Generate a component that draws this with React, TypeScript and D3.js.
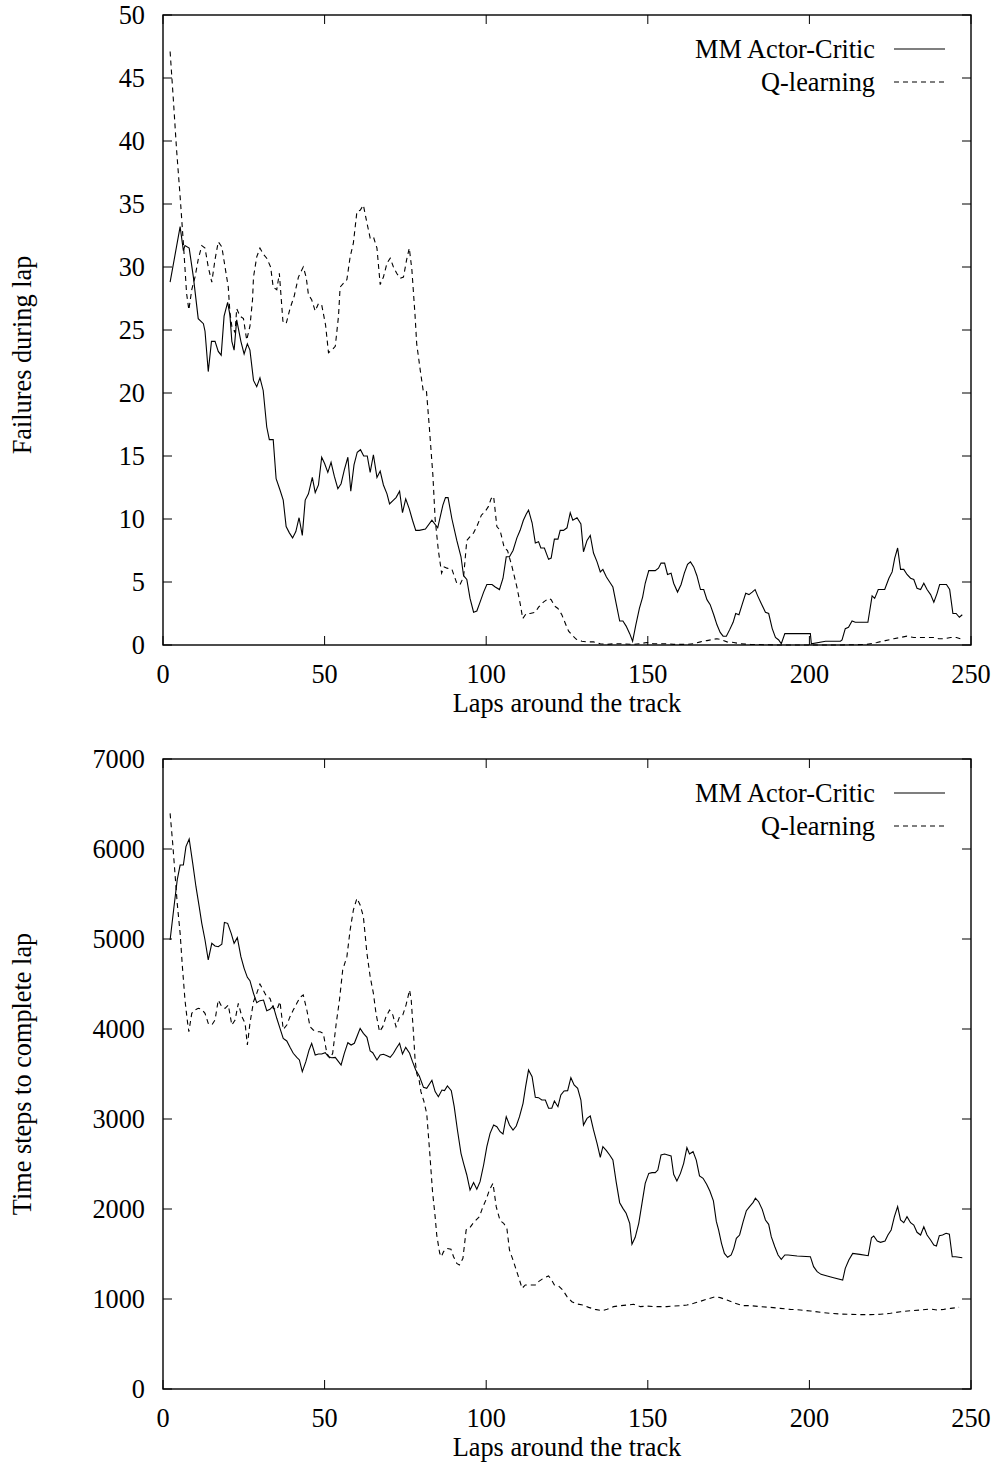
import React from "react";
import * as d3 from "d3";

// Failures per lap, [lap, failures]
const acFailures: [number, number][] = [
  [2.2,28.8],[5.3,33.2],[6.3,31.3],[6.8,31.7],[8.1,31.5],[9.4,29.2],[10.9,25.9],[12.5,25.5],[13,24.9],[14,21.7],[15,24.1],[16.1,24.1],[17.1,23.3],[18,23.0],[18.9,26.1],[20,27.2],[20.7,26.2],[21.3,24.1],[22,23.4],[22.8,25.8],[24.1,24.1],[25.1,23.1],[26.1,23.9],[26.9,23.4],[28,21.0],[29,20.5],[30,21.2],[31,20.2],[32.1,17.3],[32.9,16.3],[34.1,16.3],[35,13.2],[36.2,12.3],[37.2,11.5],[38.1,9.4],[39.1,8.9],[40.1,8.5],[41.1,9.0],[42.1,10.1],[43.1,8.7],[44,11.5],[45,12.0],[46.2,13.3],[47.1,12.1],[48.1,12.7],[49.1,14.9],[50,14.4],[51,13.7],[52,14.5],[53,13.4],[54.1,12.4],[55.1,12.8],[56.1,13.9],[57.2,14.9],[58.1,12.2],[59.1,14.3],[60.1,15.3],[61.1,15.5],[62.1,15.0],[63.2,15.0],[64.1,13.7],[65.1,15.1],[66.2,13.3],[67.2,13.8],[68.2,12.7],[69.3,12.0],[70.1,11.2],[71.3,11.5],[72.1,11.7],[73.2,12.2],[74.1,10.5],[75.1,11.6],[76.2,10.8],[77.2,9.9],[78.2,9.1],[79.3,9.1],[81.2,9.2],[83.2,9.9],[85,9.3],[86.6,11.1],[87.4,11.7],[88.2,11.7],[89.4,10.0],[90.9,8.3],[92.2,7.0],[93,5.5],[94,5.2],[95,3.7],[96.1,2.6],[97.1,2.7],[98.1,3.4],[99.2,4.2],[100.2,4.8],[101.8,4.8],[102.8,4.6],[104.1,4.4],[105.2,5.3],[106.2,7.0],[107.2,7.0],[108.3,7.5],[109.5,8.5],[110.5,9.1],[111.5,9.9],[112.4,10.4],[113.1,10.7],[114.2,9.7],[115.2,8.1],[116.2,8.2],[116.9,7.7],[118,7.7],[119.3,6.8],[120.1,6.9],[121.1,8.4],[122.2,8.4],[122.9,9.1],[123.9,9.1],[125,9.3],[126,10.5],[126.8,9.9],[128.1,10.1],[129.3,9.6],[130.1,7.4],[131.2,8.3],[132.2,8.7],[133.2,7.3],[134.3,6.6],[135.3,5.8],[136.1,6.0],[137.2,5.4],[138.2,5.0],[139.2,4.6],[140.2,3.3],[141.3,1.9],[142.3,1.9],[143.3,1.5],[144.4,0.9],[145.3,0.3],[146.3,1.6],[147.4,2.9],[148.4,3.8],[149.2,4.9],[150.3,5.9],[151.3,5.9],[152.3,5.9],[153.3,6.1],[154.1,6.5],[155.2,6.5],[156.1,5.6],[157.2,5.7],[158,4.9],[159.2,4.2],[160.3,4.8],[161.3,5.7],[162.3,6.4],[163.2,6.6],[164.2,6.2],[165.2,5.5],[166.3,4.4],[167.3,4.4],[168.3,3.6],[169.3,3.2],[170.4,2.4],[171.4,1.6],[172.4,1.0],[173.3,0.7],[174.3,0.7],[175.3,1.2],[176.4,1.8],[177.2,2.5],[178.2,2.4],[179.3,3.3],[180.3,4.1],[181.3,4.0],[182.3,4.2],[183.2,4.4],[184,3.9],[185.1,3.3],[186.4,2.6],[187.4,2.5],[188.5,1.3],[189.5,0.6],[190.5,0.4],[191.3,0.1],[192.4,0.9],[200.3,0.9],[200.6,0.1],[205,0.3],[209.6,0.3],[210.1,0.4],[211.1,1.3],[212.1,1.4],[213.2,1.9],[214.2,1.8],[218.1,1.8],[219.4,3.9],[220.2,3.7],[221.3,4.4],[223.3,4.4],[224.6,5.3],[225.6,5.8],[226.4,6.9],[227.3,7.7],[228.2,6.0],[229.2,6.0],[230.2,5.6],[231.3,5.3],[232.3,5.2],[233.3,4.5],[234.4,4.4],[235.4,4.9],[236.4,4.4],[237.5,4.0],[238.5,3.4],[239.5,4.1],[240.3,4.8],[242.4,4.8],[243.4,4.4],[244.4,2.5],[245.4,2.5],[246.4,2.2],[247.3,2.4]
];

const qFailures: [number, number][] = [
  [2.2,47.1],[3.2,43.3],[4.2,39.3],[5.3,35.6],[6.3,31.9],[7.3,27.9],[8,26.6],[8.9,28.2],[9.9,29.2],[10.9,30.6],[12,31.7],[13,31.5],[14,30.0],[15.1,28.8],[16.1,30.6],[17.1,32.0],[18.2,31.6],[19.2,30.0],[20.2,28.4],[20.7,26.4],[21.3,25.3],[22.3,24.8],[22.8,26.7],[23.8,26.1],[24.9,25.9],[25.9,24.2],[26.9,25.3],[27.7,27.4],[28,29.2],[29,30.8],[30,31.5],[31.1,31.0],[32.1,30.7],[33.3,30.0],[34.1,28.4],[35.2,28.2],[36,29.5],[37.1,25.7],[38.1,25.5],[39.3,26.7],[40.6,27.7],[41.9,29.2],[43.4,30.0],[44.3,29.2],[45,27.8],[46,27.4],[47.1,26.5],[48.1,27.1],[49.1,27.0],[50.3,25.4],[51.2,23.2],[52.2,23.4],[53.3,23.7],[54.3,26.1],[54.8,28.4],[55.8,28.7],[56.9,29.0],[57.9,30.8],[58.9,31.9],[60,34.4],[61,34.5],[62,34.9],[63.1,33.5],[64.1,32.3],[65.1,32.4],[66.2,31.5],[67.2,28.6],[68.2,29.2],[69.3,30.3],[70.3,30.7],[71.3,30.0],[72.3,29.5],[73.4,29.1],[74.4,29.2],[75.4,30.6],[76.2,31.5],[77,29.8],[78,26.1],[78.5,23.9],[79.6,21.8],[80.5,20.2],[81.5,20.2],[82.4,17.3],[83.5,13.5],[84.2,10.0],[85.2,7.5],[86.2,5.7],[87,6.2],[87.9,6.1],[89.4,6.0],[90.9,4.9],[91.9,4.8],[93,5.4],[94,8.3],[95,8.6],[96.1,8.9],[97.1,9.4],[98.5,10.3],[99.7,10.6],[100.7,11.0],[101.5,11.6],[102.3,11.8],[103.3,9.4],[104.3,9.1],[105.6,7.7],[106.6,7.5],[108,6.2],[109.5,4.6],[110.5,3.3],[111.3,2.1],[112.4,2.5],[113.6,2.5],[115.2,2.6],[116.2,3.0],[117.7,3.4],[119.3,3.7],[120.1,3.6],[121.1,3.1],[122.2,2.9],[123.4,2.4],[124.5,1.7],[125.5,1.1],[126.5,0.8],[127.9,0.45],[129.6,0.3],[131.2,0.25],[133.2,0.25],[135.3,0.1],[137.4,0.05],[139.4,0.1],[141.5,0.1],[145.6,0.05],[147.7,0.1],[149.7,0.2],[151.8,0.1],[155.9,0.1],[158,0.05],[162.1,0.05],[164.2,0.1],[166.3,0.25],[168.3,0.35],[170.4,0.45],[171.4,0.5],[173,0.4],[174.5,0.25],[176.6,0.2],[178.6,0.1],[181.7,0.05],[190,0],[200,0],[210,0],[217.8,0.05],[220.9,0.2],[223.5,0.35],[226.1,0.5],[228.2,0.6],[230.2,0.7],[232.3,0.6],[234.4,0.6],[236.4,0.6],[238.5,0.6],[240,0.5],[241.6,0.5],[243.7,0.6],[245.5,0.6],[246.7,0.5]
];

// Time steps per lap, [lap, steps]
const acSteps: [number, number][] = [
  [2.2,4989],[3.4,5359],[4.4,5656],[5.3,5822],[6.3,5822],[7.1,6026],[8.1,6111],[9.2,5841],[10.2,5581],[11.2,5359],[12,5174],[13,4989],[14,4767],[15.1,4952],[16.1,4922],[17.1,4914],[18.2,4941],[19,5185],[20,5174],[21.1,5063],[22,4952],[23,5015],[24.1,4804],[25.1,4674],[26.1,4574],[26.9,4537],[28,4396],[29,4293],[30,4315],[31.1,4322],[32.1,4204],[33.1,4219],[34.1,4256],[35.2,4119],[36.2,4007],[37.2,3896],[38.3,3867],[39.3,3796],[40.3,3730],[41.4,3685],[42.2,3656],[43.1,3526],[44.2,3637],[45.2,3767],[46,3841],[47.1,3711],[48.1,3722],[49.1,3722],[50.2,3737],[51.2,3692],[52.2,3681],[53.3,3685],[54.3,3637],[55.1,3600],[56.1,3730],[57.2,3848],[58.2,3822],[59.2,3841],[60.2,3933],[61,4007],[62,3952],[63.1,3907],[64.1,3756],[64.9,3737],[66.2,3656],[67.2,3711],[68.2,3719],[69.3,3704],[70.3,3685],[71.3,3730],[72.1,3781],[73.2,3841],[74.1,3722],[75.1,3796],[76.3,3730],[77.2,3637],[78.2,3544],[79.3,3478],[80.6,3352],[81.6,3341],[83.2,3430],[84.2,3304],[85.2,3248],[86.3,3322],[87.1,3315],[88,3367],[89.2,3315],[90.1,3137],[91.1,2878],[92.2,2619],[93,2507],[94,2378],[95,2211],[96.1,2293],[97.1,2219],[98.1,2304],[99.2,2489],[100.2,2693],[101.2,2841],[102.3,2933],[103.3,2915],[104.3,2859],[105.2,2833],[106.2,3026],[107.2,2933],[108.3,2878],[109.3,2922],[110.3,3026],[111.4,3174],[112.2,3359],[113.1,3544],[114.2,3470],[115.2,3241],[116.2,3237],[117.2,3211],[118.3,3211],[119.3,3119],[120.3,3119],[121.1,3200],[122.2,3137],[123.1,3267],[124.1,3311],[125.2,3315],[126.2,3459],[127.2,3378],[128.3,3341],[129.3,3211],[130.1,2933],[131.2,3007],[132.2,3033],[133.2,2878],[134.3,2730],[135.3,2574],[136.1,2693],[137.2,2648],[138.2,2600],[139.2,2544],[140.2,2304],[141.3,2070],[142.3,2007],[143.3,1952],[144.4,1841],[145.1,1608],[146.1,1685],[147.2,1841],[148.2,2063],[149.2,2285],[150.3,2396],[151.3,2404],[152.3,2404],[153.1,2433],[154.1,2600],[155.2,2611],[156.2,2600],[157.2,2589],[158,2385],[159,2311],[160.1,2396],[161.1,2507],[162.1,2681],[162.9,2611],[164,2637],[165,2544],[166,2367],[167.1,2341],[168.2,2274],[169.2,2200],[170.3,2090],[171.2,1862],[171.9,1767],[172.8,1619],[173.7,1507],[174.7,1463],[175.8,1489],[176.6,1563],[177.4,1674],[178.4,1711],[179.5,1859],[180.5,1981],[181.5,2026],[182.6,2074],[183.3,2119],[184.3,2081],[185.4,1996],[186.4,1878],[187.4,1830],[188.2,1692],[189.3,1581],[190.3,1489],[191.3,1441],[192.4,1489],[193.4,1489],[196.2,1478],[200.3,1470],[201.3,1359],[202.4,1304],[203.6,1274],[205.5,1256],[207.5,1237],[210.3,1211],[211.1,1341],[212.2,1433],[213.4,1507],[215.6,1496],[218.2,1481],[219.2,1681],[219.9,1700],[221,1644],[222,1630],[223.4,1644],[224.3,1711],[225.3,1767],[226.3,1915],[227.3,2026],[228.2,1878],[229.2,1848],[230.2,1915],[231.3,1848],[232.3,1822],[233.3,1741],[234.4,1711],[235.4,1803],[236.4,1711],[237.5,1656],[238.5,1600],[239.3,1589],[240.2,1704],[241.2,1711],[242.3,1730],[243.3,1719],[244.2,1470],[245.2,1470],[247.3,1459]
];

const qSteps: [number, number][] = [
  [2.2,6396],[3,6063],[3.7,5730],[4.4,5396],[5.3,5063],[6,4693],[6.8,4322],[7.5,4100],[8,3970],[8.9,4174],[9.9,4211],[10.9,4230],[12,4219],[13,4174],[14,4063],[15.1,4044],[16.1,4100],[17.1,4322],[18.2,4248],[19.2,4230],[20.2,4267],[21.3,4044],[22.3,4100],[23.3,4285],[24.4,4137],[25.4,4063],[26.1,3822],[26.9,4063],[28,4304],[29,4396],[30,4500],[31.1,4426],[32.1,4359],[33.1,4341],[34.1,4230],[35.2,4211],[36.2,4304],[37.2,3996],[38.3,4044],[39.3,4137],[40.3,4211],[41.4,4285],[42.4,4352],[43.4,4378],[44.5,4211],[45.5,4026],[46.5,3989],[47.6,3970],[48.6,3970],[49.6,3952],[50.7,3730],[51.7,3674],[52.5,3730],[53.6,4063],[54.6,4322],[55.6,4656],[56.9,4804],[57.9,5100],[58.9,5322],[60,5452],[61,5378],[62,5248],[63.1,4841],[64.1,4581],[65.1,4396],[65.9,4174],[67,3970],[68,4026],[69,4137],[70.1,4211],[71.1,4156],[72.1,4026],[73.2,4137],[74.2,4156],[75.2,4267],[76.3,4433],[76.8,4322],[77.5,3952],[78,3656],[78.5,3507],[79.3,3420],[79.8,3304],[80.7,3200],[81.6,3060],[82.5,2640],[83.4,2190],[84.2,1915],[84.7,1710],[85.6,1510],[86.1,1470],[86.8,1526],[87.8,1563],[89.1,1552],[89.9,1470],[90.9,1396],[91.7,1378],[92.8,1452],[93.8,1767],[94.8,1785],[95.9,1841],[96.9,1878],[97.9,1915],[99,2026],[100,2107],[101,2211],[102.1,2285],[103.1,2026],[104.3,1870],[105.4,1841],[106.4,1785],[107.2,1544],[108.3,1433],[109.3,1322],[110.3,1211],[111.1,1119],[112.1,1156],[113.6,1156],[115.2,1156],[116.2,1193],[117.7,1230],[119.3,1256],[120.1,1219],[121.1,1156],[122.4,1144],[123.7,1100],[125,1026],[126.5,970],[128.1,944],[130.1,933],[131.7,907],[133.7,885],[135.8,870],[137.4,885],[139.4,915],[141.5,926],[143.6,933],[145.6,941],[147.7,915],[149.7,922],[151.8,915],[155.9,915],[158,922],[160,926],[162.1,933],[164.2,952],[166.3,975],[168.3,998],[170.9,1026],[172.4,1015],[174.5,989],[176.6,959],[179.2,926],[181.8,926],[184.8,915],[187.9,907],[191,896],[194.1,885],[197.2,878],[200.3,867],[203.4,852],[206.5,841],[209.6,833],[212.7,830],[215.8,826],[218.9,826],[222,830],[225.1,841],[228.2,859],[231.3,870],[234.4,878],[237.5,889],[239.5,878],[241.6,885],[243.7,896],[246.3,907]
];

const xTicks = [0, 50, 100, 150, 200, 250];
const failureTicks = [0, 5, 10, 15, 20, 25, 30, 35, 40, 45, 50];
const stepTicks = [0, 1000, 2000, 3000, 4000, 5000, 6000, 7000];
const seriesNames = ["MM Actor-Critic", "Q-learning"];

const FONT = "'Liberation Serif', 'Times New Roman', serif";
const FS = 26.3;
const LEFT = 163;
const RIGHT = 971;
const TICK = 9;
const DASH = "5,4";

type PanelProps = {
  top: number;
  bottom: number;
  yMax: number;
  yTicks: number[];
  yTitle: string;
  yTitleCenter: number;
  solid: [number, number][];
  dashed: [number, number][];
};

function Panel({ top, bottom, yMax, yTicks, yTitle, yTitleCenter, solid, dashed }: PanelProps) {
  const x = d3.scaleLinear().domain([0, 250]).range([LEFT, RIGHT]);
  const y = d3.scaleLinear().domain([0, yMax]).range([bottom, top]);
  const line = d3
    .line<[number, number]>()
    .x((d) => x(d[0]))
    .y((d) => y(d[1]));

  const legendRight = 875;
  const legendLineX0 = 894;
  const legendLineX1 = 945;
  const legendY = [top + 43, top + 76];

  return (
    <g fontFamily={FONT} fontSize={FS} fill="#000">
      {/* data */}
      <path d={line(solid) || ""} fill="none" stroke="#000" strokeWidth={1.1} />
      <path d={line(dashed) || ""} fill="none" stroke="#000" strokeWidth={1.1} strokeDasharray={DASH} />

      {/* frame */}
      <rect x={LEFT} y={top} width={RIGHT - LEFT} height={bottom - top} fill="none" stroke="#000" strokeWidth={1.4} />

      {/* y ticks on both sides */}
      {yTicks.map((t) => (
        <g key={`y${t}`}>
          <line x1={LEFT} x2={LEFT + TICK} y1={y(t)} y2={y(t)} stroke="#000" strokeWidth={1} />
          <line x1={RIGHT} x2={RIGHT - TICK} y1={y(t)} y2={y(t)} stroke="#000" strokeWidth={1} />
          <text x={145} y={y(t) + 9} textAnchor="end">{t}</text>
        </g>
      ))}

      {/* x ticks on both sides */}
      {xTicks.map((t) => (
        <g key={`x${t}`}>
          <line x1={x(t)} x2={x(t)} y1={bottom} y2={bottom - TICK} stroke="#000" strokeWidth={1} />
          <line x1={x(t)} x2={x(t)} y1={top} y2={top + TICK} stroke="#000" strokeWidth={1} />
          <text x={x(t)} y={bottom + 38} textAnchor="middle">{t}</text>
        </g>
      ))}

      {/* axis titles */}
      <text x={(LEFT + RIGHT) / 2} y={bottom + 67} textAnchor="middle">Laps around the track</text>
      <text
        transform={`translate(31, ${yTitleCenter}) rotate(-90)`}
        textAnchor="middle"
      >
        {yTitle}
      </text>

      {/* legend */}
      {seriesNames.map((name, i) => (
        <g key={name}>
          <text x={legendRight} y={legendY[i]} textAnchor="end">{name}</text>
          <line
            x1={legendLineX0}
            x2={legendLineX1}
            y1={legendY[i] - 9}
            y2={legendY[i] - 9}
            stroke="#000"
            strokeWidth={1.1}
            strokeDasharray={i === 1 ? DASH : undefined}
          />
        </g>
      ))}
    </g>
  );
}

export default function App() {
  return (
    <div style={{ position: "absolute", left: 0, top: 0 }}>
      <svg width={998} height={1465} style={{ display: "block", background: "#fff" }}>
        <Panel
          top={15}
          bottom={645}
          yMax={50}
          yTicks={failureTicks}
          yTitle="Failures during lap"
          yTitleCenter={355}
          solid={acFailures}
          dashed={qFailures}
        />
        <Panel
          top={759}
          bottom={1389}
          yMax={7000}
          yTicks={stepTicks}
          yTitle="Time steps to complete lap"
          yTitleCenter={1074}
          solid={acSteps}
          dashed={qSteps}
        />
      </svg>
    </div>
  );
}
